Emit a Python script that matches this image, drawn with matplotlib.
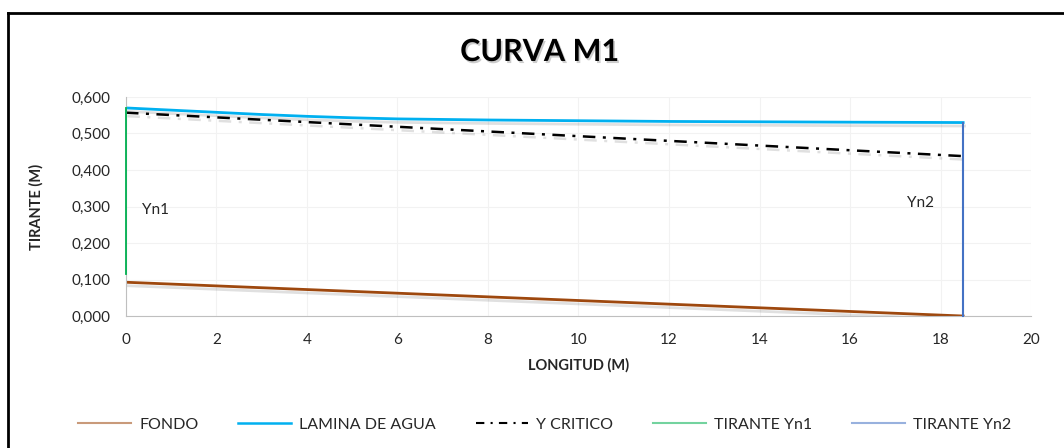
import numpy as np
import matplotlib
matplotlib.use("Agg")
import matplotlib.pyplot as plt
import matplotlib.patheffects as pe
from matplotlib.lines import Line2D
from matplotlib.ticker import FuncFormatter

plt.rcParams['font.family'] = ['Lato', 'DejaVu Sans']

# data
x_fondo = [0, 18.5]
y_fondo = [0.0925, 0.0]

x_lamina = [0, 1, 2, 3, 4, 5, 6, 8, 10, 12, 14, 16, 18.5]
y_lamina = [0.570, 0.564, 0.558, 0.552, 0.547, 0.543, 0.540, 0.537, 0.535, 0.533, 0.532, 0.531, 0.530]

x_critico = [0, 18.5]
y_critico = [0.557, 0.438]

x_yn1 = [0, 0]
y_yn1 = [0.115, 0.570]

x_yn2 = [18.5, 18.5]
y_yn2 = [0.0, 0.530]

shadow = [pe.SimpleLineShadow(offset=(1, -2.5), alpha=0.12, rho=0.5), pe.Normal()]

fig = plt.figure(figsize=(10.64, 4.48), dpi=100)
ax = fig.add_axes([0.1184, 0.2946, 0.8506, 0.4889])

ax.plot(x_fondo, y_fondo, color='#9E480E', lw=2, path_effects=shadow)
ax.plot(x_lamina, y_lamina, color='#00B0F0', lw=2, path_effects=shadow)
ax.plot(x_critico, y_critico, color='black', lw=1.8, dashes=(5, 3, 1.2, 3), path_effects=shadow)
ax.plot(x_yn1, y_yn1, color='#00B050', lw=1.3, clip_on=False, zorder=4)
ax.plot(x_yn2, y_yn2, color='#4472C4', lw=1.5, clip_on=False, zorder=4)

ax.text(0.35, 0.29, 'Yn1', fontsize=11, color='#262626', va='center')
ax.text(17.25, 0.31, 'Yn2', fontsize=11, color='#262626', va='center')

ax.set_xlim(0, 20)
ax.set_ylim(0, 0.6)
ax.set_xticks(np.arange(0, 21, 2))
ax.set_yticks(np.arange(0, 0.61, 0.1))
ax.yaxis.set_major_formatter(FuncFormatter(lambda v, p: f'{v:.3f}'.replace('.', ',')))
ax.tick_params(length=0, labelsize=11, colors='#262626')
ax.tick_params(axis='x', pad=12)
ax.tick_params(axis='y', pad=11)
ax.grid(True, color='#F2F2F2', lw=0.8)
ax.set_axisbelow(True)
for s in ['top', 'right']:
    ax.spines[s].set_visible(False)
for s in ['left', 'bottom']:
    ax.spines[s].set_color('#BFBFBF')

ax.set_xlabel('LONGITUD (M)', fontsize=10.5, fontweight='bold', color='#262626', labelpad=8)
ax.set_ylabel('TIRANTE (M)', fontsize=10.5, fontweight='bold', color='#262626', labelpad=20)

fig.text(0.507, 0.884, 'CURVA M1', ha='center', va='center', fontsize=22, fontweight='bold',
         color='black', path_effects=[pe.withSimplePatchShadow(offset=(1.2, -1.5), alpha=0.2)])

handles = [
    Line2D([], [], color='#9E480E', lw=1.5, alpha=0.55),
    Line2D([], [], color='#00B0F0', lw=1.8),
    Line2D([], [], color='black', lw=1.5, dashes=(4, 3, 1, 3)),
    Line2D([], [], color='#00B050', lw=1.5, alpha=0.55),
    Line2D([], [], color='#4472C4', lw=1.5, alpha=0.55),
]
labels = ['FONDO', 'LAMINA DE AGUA', 'Y CRITICO', 'TIRANTE Yn1', 'TIRANTE Yn2']
fig.legend(handles, labels, loc='center', bbox_to_anchor=(0.512, 0.052), ncol=5, frameon=False,
           fontsize=11.5, handlelength=3.3, handletextpad=0.5, columnspacing=2.5, labelcolor='#262626')

# chart border (top and left edges)
fig.add_artist(Line2D([8 / 1064, 1.0], [1 - 13 / 448, 1 - 13 / 448], transform=fig.transFigure, color='black', lw=2))
fig.add_artist(Line2D([8 / 1064, 8 / 1064], [0.0, 1 - 13 / 448], transform=fig.transFigure, color='black', lw=2))

fig.savefig('out.png', dpi=100)
